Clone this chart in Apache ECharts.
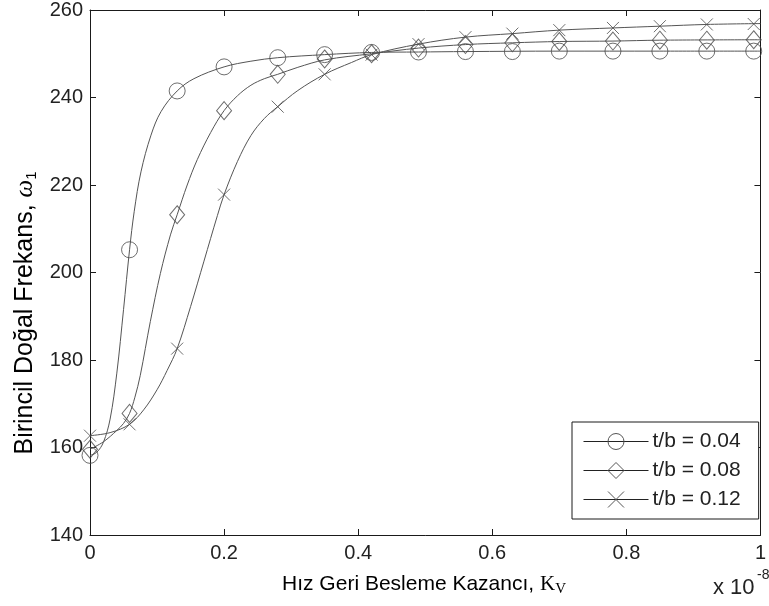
<!DOCTYPE html>
<html>
<head>
<meta charset="utf-8">
<script src="https://cdn.jsdelivr.net/npm/echarts@6/dist/echarts.min.js"></script>
<style>
html,body{margin:0;padding:0;background:#fff;}
#chart{width:769px;height:606px;}
</style>
</head>
<body>
<div id="chart"></div>
<script>
// ---- data (Kv in units of 1e-8) ----
const seriesNames = ['t/b = 0.04', 't/b = 0.08', 't/b = 0.12'];
const xTicks = [0, 0.2, 0.4, 0.6, 0.8, 1];
const yTicks = [140, 160, 180, 200, 220, 240, 260];

const markerX = [0, 0.059, 0.13, 0.2, 0.28, 0.35, 0.42, 0.49, 0.56, 0.63, 0.70, 0.78, 0.85, 0.92, 0.99];
const circleMarkers  = [158.2, 205.2, 241.5, 247.0, 249.1, 249.8, 250.3, 250.4, 250.5, 250.5, 250.6, 250.6, 250.6, 250.6, 250.6];
const diamondMarkers = [159.6, 167.8, 213.2, 237.0, 245.3, 248.8, 250.0, 251.3, 252.1, 252.5, 252.8, 252.9, 253.1, 253.1, 253.2];
const crossMarkers   = [162.7, 165.3, 182.6, 217.8, 237.9, 245.3, 249.8, 252.2, 253.8, 254.6, 255.4, 255.9, 256.3, 256.7, 256.8];

const circleCurveX = [0, 0.01, 0.02, 0.03, 0.04, 0.05, 0.059, 0.066, 0.076, 0.091, 0.106, 0.13, 0.155, 0.2, 0.24, 0.28, 0.35, 0.42, 0.49, 0.56, 0.7, 0.85, 1.0];
const circleCurveY = [158.2, 158.9, 161.2, 166.5, 177.0, 191.5, 205.2, 214.0, 223.0, 231.4, 236.8, 241.5, 244.3, 247.0, 248.3, 249.1, 249.8, 250.3, 250.4, 250.5, 250.6, 250.6, 250.6];

const diamondCurveX = [0, 0.02, 0.04, 0.05, 0.059, 0.067, 0.075, 0.09, 0.105, 0.12, 0.13, 0.145, 0.16, 0.18, 0.2, 0.22, 0.24, 0.26, 0.28, 0.31, 0.35, 0.42, 0.49, 0.56, 0.63, 0.7, 0.78, 0.85, 1.0];
const diamondCurveY = [159.6, 161.3, 163.9, 165.5, 167.8, 171.5, 176.5, 188.8, 199.8, 208.6, 213.2, 220.0, 225.8, 232.0, 237.0, 240.4, 242.8, 244.3, 245.3, 246.9, 248.6, 250.0, 251.3, 252.1, 252.5, 252.8, 252.9, 253.1, 253.2];

const crossCurveX = [0, 0.03, 0.059, 0.08, 0.1, 0.115, 0.13, 0.15, 0.17, 0.19, 0.2, 0.22, 0.24, 0.26, 0.28, 0.31, 0.35, 0.39, 0.42, 0.49, 0.56, 0.63, 0.7, 0.78, 0.85, 0.92, 1.0];
const crossCurveY = [162.7, 163.4, 165.3, 168.6, 173.2, 177.6, 182.6, 192.2, 202.6, 213.0, 217.8, 225.4, 231.3, 235.2, 237.9, 241.6, 245.3, 248.0, 249.8, 252.2, 253.8, 254.6, 255.4, 255.9, 256.3, 256.7, 256.9];

// ---- chart ----
const FONT = "'Liberation Sans', Arial, sans-serif";
const SERIF = "'Liberation Serif', 'DejaVu Serif', serif";
const LINE = '#555';
const MARK = '#4a4a4a';
const crossPath = 'path://M0,0L10,10M10,0L0,10';

function pairs(xs, ys){ return xs.map((x,i)=>[x, ys[i]]); }

const defs = [
  {name: seriesNames[0], curveX: circleCurveX, curveY: circleCurveY, marks: circleMarkers, symbol: 'circle', size: 16},
  {name: seriesNames[1], curveX: diamondCurveX, curveY: diamondCurveY, marks: diamondMarkers, symbol: 'diamond', size: [15, 18]},
  {name: seriesNames[2], curveX: crossCurveX, curveY: crossCurveY, marks: crossMarkers, symbol: crossPath, size: 12}
];

const series = [];
defs.forEach(d => {
  series.push({
    name: d.name, type: 'line', data: pairs(d.curveX, d.curveY),
    smooth: 0.35, showSymbol: false, symbol: d.symbol,
    lineStyle: {color: LINE, width: 1},
    itemStyle: {color: 'transparent', borderColor: MARK, borderWidth: 1},
    emphasis: {disabled: true}, silent: true, animation: false, z: 2
  });
  series.push({
    name: d.name, type: 'scatter', data: pairs(markerX, d.marks),
    symbol: d.symbol, symbolSize: d.size,
    itemStyle: {color: 'transparent', borderColor: MARK, borderWidth: 1},
    emphasis: {disabled: true}, silent: true, animation: false, z: 3
  });
});

const axisLine = {show: true, onZero: false, lineStyle: {color: '#1a1a1a', width: 1}};
const tickIn = {show: true, inside: true, length: 6, lineStyle: {color: '#1a1a1a', width: 1}};
const labelStyle = {color: '#222', fontFamily: FONT, fontSize: 20};

const option = {
  backgroundColor: '#fff',
  animation: false,
  grid: {left: 90, right: 2, top: 9, bottom: 71, containLabel: false},
  xAxis: [
    {type: 'value', min: xTicks[0], max: xTicks[xTicks.length-1], interval: 0.2, position: 'bottom',
     axisLine: axisLine, axisTick: tickIn, splitLine: {show: false},
     axisLabel: Object.assign({margin: 8, showMaxLabel: true, alignMaxLabel: 'center', alignMinLabel: 'center'}, labelStyle)},
    {type: 'value', min: xTicks[0], max: xTicks[xTicks.length-1], interval: 0.2, position: 'top',
     axisLine: axisLine, axisTick: tickIn, splitLine: {show: false}, axisLabel: {show: false}}
  ],
  yAxis: [
    {type: 'value', min: yTicks[0], max: yTicks[yTicks.length-1], interval: 20, position: 'left',
     axisLine: axisLine, axisTick: tickIn, splitLine: {show: false},
     axisLabel: Object.assign({margin: 7}, labelStyle)},
    {type: 'value', min: yTicks[0], max: yTicks[yTicks.length-1], interval: 20, position: 'right',
     axisLine: axisLine, axisTick: tickIn, splitLine: {show: false}, axisLabel: {show: false}}
  ],
  legend: {
    data: seriesNames, orient: 'vertical', left: 572, top: 422,
    padding: [9, 18, 9, 11], itemGap: 8, itemWidth: 65, itemHeight: 20,
    backgroundColor: '#fff', borderColor: '#1a1a1a', borderWidth: 1, borderRadius: 0,
    selectedMode: false,
    textStyle: {color: '#222', fontFamily: FONT, fontSize: 21, padding: [0,0,0,-1]},
    lineStyle: {color: '#222', width: 1},
    itemStyle: {color: 'transparent', borderColor: '#555', borderWidth: 1}
  },
  graphic: [
    {type: 'text', x: 424, y: 584, silent: true,
     style: {text: '{a|Hız Geri Besleme Kazancı, }{k|K}{v|V}', align: 'center', verticalAlign: 'middle',
       rich: {a: {fontFamily: FONT, fontSize: 21, color: '#222', lineHeight: 24},
              k: {fontFamily: SERIF, fontSize: 21, color: '#222', lineHeight: 24},
              v: {fontFamily: SERIF, fontSize: 15, color: '#222', lineHeight: 15, padding: [11,0,0,0]}}}},
    {type: 'text', x: 25, y: 313, rotation: Math.PI/2, silent: true,
     style: {text: '{a|Birincil Doğal Frekans, }{w|ω}{s|1}', align: 'center', verticalAlign: 'middle',
       rich: {a: {fontFamily: FONT, fontSize: 25, color: '#222', lineHeight: 29},
              w: {fontFamily: SERIF, fontStyle: 'italic', fontSize: 25, color: '#222', lineHeight: 29},
              s: {fontFamily: FONT, fontSize: 15, color: '#222', lineHeight: 15, padding: [13,0,0,0]}}}},
    {type: 'text', x: 713, y: 588, silent: true,
     style: {text: 'x 10', fontFamily: FONT, fontSize: 22, fill: '#222', align: 'left', verticalAlign: 'middle'}},
    {type: 'text', x: 757, y: 575, silent: true,
     style: {text: '-8', fontFamily: FONT, fontSize: 14, fill: '#222', align: 'left', verticalAlign: 'middle'}}
  ],
  series: series
};

const chart = echarts.init(document.getElementById('chart'), null, {renderer: 'canvas'});
chart.setOption(option);
</script>
</body>
</html>
